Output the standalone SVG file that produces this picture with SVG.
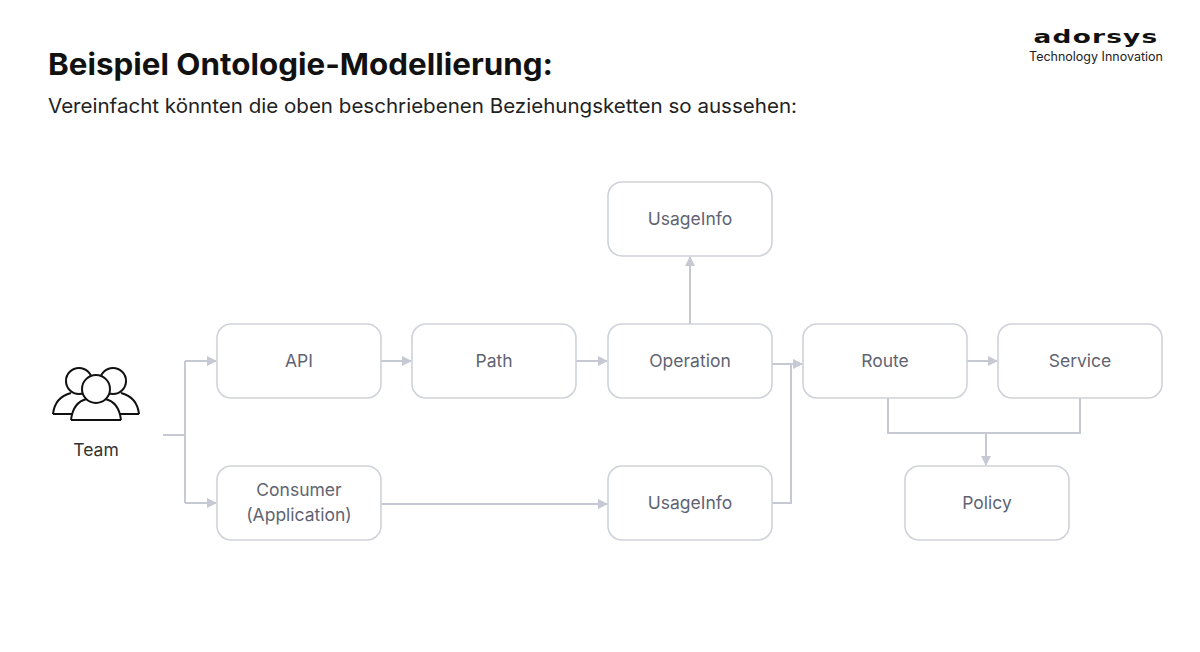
<svg xmlns="http://www.w3.org/2000/svg" width="1200" height="652" viewBox="0 0 1200 652">
<style>
.n rect{fill:#fff;stroke:#cfd2da;stroke-width:1.6}
.n text{font-family:Inter,"Liberation Sans",sans-serif;font-size:17.5px;fill:#5f6472;text-anchor:middle}
.c path{fill:none;stroke:#c6c9d3;stroke-width:2}
</style>
<defs><marker id="a" viewBox="0 0 10 10" refX="9" refY="5" markerWidth="5" markerHeight="5" orient="auto"><path d="M0,0L10,5L0,10z" fill="#c6c9d3"/></marker></defs>
<rect width="1200" height="652" fill="#fff"/>
<text x="48" y="75" font-family="Inter,'Liberation Sans',sans-serif" font-size="30" font-weight="700" fill="#111" textLength="505" lengthAdjust="spacingAndGlyphs">Beispiel Ontologie-Modellierung:</text>
<text x="48" y="113" font-family="Inter,'Liberation Sans',sans-serif" font-size="20" fill="#222" textLength="749" lengthAdjust="spacingAndGlyphs">Vereinfacht könnten die oben beschriebenen Beziehungsketten so aussehen:</text>
<text x="1096" y="43" font-family="'DejaVu Sans',sans-serif" font-size="22" font-weight="700" fill="#111" text-anchor="middle" letter-spacing="1" transform="translate(1096 43) scale(1.2 0.8) translate(-1096 -43)">adorsys</text>
<text x="1096" y="61" font-family="Inter,'Liberation Sans',sans-serif" font-size="12.5" fill="#222" text-anchor="middle">Technology Innovation</text>
<g id="team" fill="none" stroke="#111" stroke-width="2">
<circle cx="79" cy="381" r="13"/><circle cx="113" cy="381" r="13"/>
<path d="M53,414 Q55,397 71,393 M139,414 Q137,397 121,393 M53,414 H72 M139,414 H120"/>
<circle cx="96" cy="389" r="14" fill="#fff"/>
<path d="M71,420 Q73,402 87,399 M121,420 Q119,402 105,399 M71,420 H121" />
<text x="96" y="456" font-family="Inter,'Liberation Sans',sans-serif" font-size="17.5" fill="#333" stroke="none" text-anchor="middle">Team</text>
</g>
<g class="c">
<path d="M163,435H185M185,361V503M185,361H216" marker-end="url(#a)"/>
<path d="M185,503H216" marker-end="url(#a)"/>
<path d="M381,361H411" marker-end="url(#a)"/>
<path d="M576,361H607" marker-end="url(#a)"/>
<path d="M690,324V257" marker-end="url(#a)"/>
<path d="M772,364H802" marker-end="url(#a)"/>
<path d="M772,503H791V364"/>
<path d="M381,504H607" marker-end="url(#a)"/>
<path d="M967,361H997" marker-end="url(#a)"/>
<path d="M888,398V433H1080V398"/>
<path d="M986,433V465" marker-end="url(#a)"/>
</g>
<g id="api" class="n"><rect x="217" y="324" width="164" height="74" rx="14"/><text x="299" y="367">API</text></g>
<g id="path" class="n"><rect x="412" y="324" width="164" height="74" rx="14"/><text x="494" y="367">Path</text></g>
<g id="operation" class="n"><rect x="608" y="324" width="164" height="74" rx="14"/><text x="690" y="367">Operation</text></g>
<g id="usageinfo1" class="n"><rect x="608" y="182" width="164" height="74" rx="14"/><text x="690" y="225">UsageInfo</text></g>
<g id="route" class="n"><rect x="803" y="324" width="164" height="74" rx="14"/><text x="885" y="367">Route</text></g>
<g id="service" class="n"><rect x="998" y="324" width="164" height="74" rx="14"/><text x="1080" y="367">Service</text></g>
<g id="consumer" class="n"><rect x="217" y="466" width="164" height="74" rx="14"/><text x="299" y="496">Consumer</text><text x="299" y="521">(Application)</text></g>
<g id="usageinfo2" class="n"><rect x="608" y="466" width="164" height="74" rx="14"/><text x="690" y="509">UsageInfo</text></g>
<g id="policy" class="n"><rect x="905" y="466" width="164" height="74" rx="14"/><text x="987" y="509">Policy</text></g>
</svg>
